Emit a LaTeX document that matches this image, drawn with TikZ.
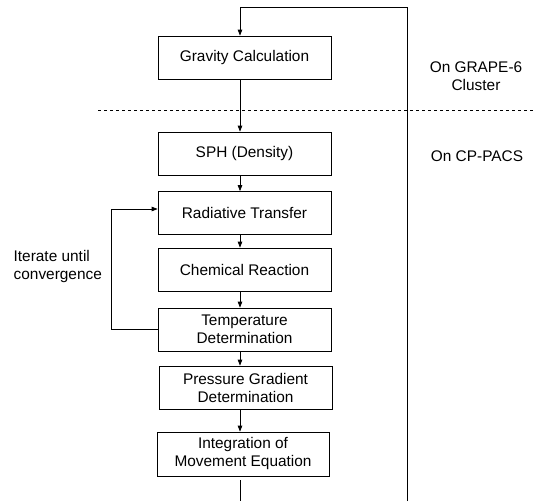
\documentclass[tikz,border=0pt]{standalone}
\usepackage{fontspec}
\setmainfont{Liberation Sans}
\usetikzlibrary{arrows.meta, positioning, calc}

\begin{document}
\begin{tikzpicture}[x=1pt, y=-1pt, >={Triangle[length=6pt, width=4.5pt]}, line width=0.7pt,
  stage/.style={draw, rectangle, minimum width=173pt, minimum height=43pt, inner sep=2pt,
    align=center, font=\fontsize{15.4}{18}\selectfont},
  sidelabel/.style={draw=none, fill=none, font=\fontsize{15.4}{18}\selectfont}]

  \useasboundingbox (0,0) rectangle (540,501);

  % Stages of one step
  \node[stage] (grav) at (244.5,57.5) {Gravity Calculation};
  \node[stage] (sph) at (244.5,153.5) {SPH (Density)};
  \node[stage] (rad) at (244.5,213) {Radiative Transfer};
  \node[stage] (chem) at (244.5,269.5) {Chemical Reaction};
  \node[stage] (temp) at (244.5,329.5) {Temperature\\Determination};
  \node[stage] (pres) at (245.5,387.5) {Pressure Gradient\\Determination};
  \node[stage, minimum width=172pt, minimum height=44pt] (integ) at (243,454) {Integration of\\Movement Equation};

  % Machine labels
  \node[sidelabel, align=center] (grape) at (476,76) {On GRAPE-6\\Cluster};
  \node[sidelabel] (cppacs) at (477,156) {On CP-PACS};
  \node[sidelabel, align=left, anchor=west] (iter) at (10,267) {Iterate until\\convergence};

  % Loop corners
  \coordinate (topL) at (240,7);
  \coordinate (topR) at (407,7);
  \coordinate (botL) at (240,501);
  \coordinate (botR) at (407,501);
  \coordinate (itL) at (111,0);
  \coordinate (splitL) at (98,110);
  \coordinate (splitR) at (533,110);

  % Flow downwards
  \draw[->] (grav.south -| topL) -- (sph.north -| topL);
  \draw[->] (sph.south -| topL) -- (rad.north -| topL);
  \draw[->] (rad.south -| topL) -- (chem.north -| topL);
  \draw[->] (chem.south -| topL) -- (temp.north -| topL);
  \draw[->] (temp.south -| topL) -- (pres.north -| topL);
  \draw[->] (pres.south -| topL) -- (integ.north -| topL);
  \draw ([yshift=-4pt]integ.south -| topL) -- (botL);

  % Outer time-step loop
  \draw[->] (botR) -- (topR) -- (topL) -- (grav.north -| topL);

  % Iteration loop
  \draw[->] (temp.west) -- (temp.west -| itL) -- ([yshift=4pt]rad.west -| itL) -- ([yshift=4pt]rad.west);

  % Split between machines
  \draw[dashed] (splitL) -- (splitR);

\end{tikzpicture}
\end{document}
